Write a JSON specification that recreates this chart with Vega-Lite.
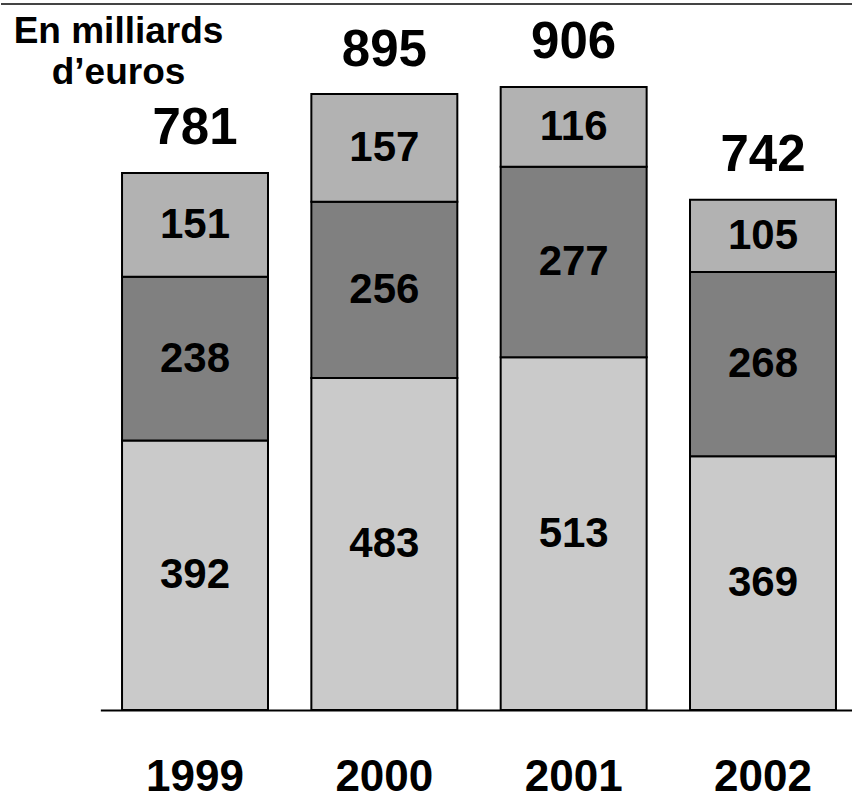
{
  "$schema": "https://vega.github.io/schema/vega-lite/v6.json",
  "width": 852,
  "height": 710,
  "padding": 0,
  "autosize": {"type": "pad"},
  "background": "white",
  "config": {
    "view": {"stroke": null},
    "font": "Liberation Sans"
  },
  "datasets": {
    "segments": [
      {"year": "1999", "segment": "a", "ord": 1, "value": 392},
      {"year": "1999", "segment": "b", "ord": 2, "value": 238},
      {"year": "1999", "segment": "c", "ord": 3, "value": 151},
      {"year": "2000", "segment": "a", "ord": 1, "value": 483},
      {"year": "2000", "segment": "b", "ord": 2, "value": 256},
      {"year": "2000", "segment": "c", "ord": 3, "value": 157},
      {"year": "2001", "segment": "a", "ord": 1, "value": 513},
      {"year": "2001", "segment": "b", "ord": 2, "value": 277},
      {"year": "2001", "segment": "c", "ord": 3, "value": 116},
      {"year": "2002", "segment": "a", "ord": 1, "value": 369},
      {"year": "2002", "segment": "b", "ord": 2, "value": 268},
      {"year": "2002", "segment": "c", "ord": 3, "value": 105}
    ],
    "totals": [
      {"year": "1999", "total": 781},
      {"year": "2000", "total": 895},
      {"year": "2001", "total": 906},
      {"year": "2002", "total": 742}
    ]
  },
  "layer": [
    {
      "data": {"name": "segments"},
      "mark": {"type": "bar", "stroke": "#000000", "strokeWidth": 2},
      "encoding": {
        "x": {
          "field": "year",
          "type": "nominal",
          "scale": {"range": [99.35, 856.65], "paddingInner": 0.229, "paddingOuter": 0.1145},
          "axis": {
            "title": null,
            "ticks": false,
            "domainColor": "#000000",
            "domainWidth": 2,
            "labelFont": "Liberation Sans",
            "labelFontWeight": "bold",
            "labelFontSize": 44,
            "labelColor": "#000000",
            "labelAngle": 0,
            "labelBaseline": "alphabetic",
            "labelPadding": 80
          }
        },
        "y": {
          "field": "value",
          "type": "quantitative",
          "aggregate": "sum",
          "stack": "zero",
          "scale": {"domain": [0, 1032.6], "nice": false},
          "axis": {
            "title": ["En milliards", "d’euros"],
            "titleAngle": 0,
            "titleX": 117,
            "titleY": 42,
            "titleAlign": "center",
            "titleBaseline": "alphabetic",
            "titleFont": "Liberation Sans",
            "titleFontSize": 37,
            "titleFontWeight": "bold",
            "titleColor": "#000000",
            "titleLineHeight": 41,
            "domain": false,
            "ticks": false,
            "labels": false,
            "grid": false,
            "minExtent": 0,
            "maxExtent": 0
          }
        },
        "color": {
          "field": "segment",
          "type": "nominal",
          "scale": {"domain": ["a", "b", "c"], "range": ["#cacaca", "#808080", "#b2b2b2"]},
          "legend": null
        },
        "order": {"field": "ord", "type": "quantitative", "sort": "ascending"}
      }
    },
    {
      "data": {"name": "segments"},
      "transform": [
        {"stack": "value", "groupby": ["year"], "sort": [{"field": "ord", "order": "ascending"}], "as": ["v0", "v1"]},
        {"calculate": "(datum.v0 + datum.v1) / 2", "as": "mid"}
      ],
      "mark": {"type": "text", "font": "Liberation Sans", "fontWeight": "bold", "fontSize": 42, "baseline": "middle", "align": "center", "color": "#000000"},
      "encoding": {
        "x": {"field": "year", "type": "nominal"},
        "y": {"field": "mid", "type": "quantitative"},
        "text": {"field": "value", "type": "quantitative"}
      }
    },
    {
      "data": {"name": "totals"},
      "mark": {"type": "text", "font": "Liberation Sans", "fontWeight": "bold", "fontSize": 51, "baseline": "alphabetic", "align": "center", "dy": -29, "color": "#000000"},
      "encoding": {
        "x": {"field": "year", "type": "nominal"},
        "y": {"field": "total", "type": "quantitative"},
        "text": {"field": "total", "type": "quantitative"}
      }
    },
    {
      "data": {"values": [{}]},
      "mark": {"type": "rule", "color": "#444444", "strokeWidth": 2},
      "encoding": {
        "y": {"datum": 1026.8, "type": "quantitative"}
      }
    }
  ]
}
